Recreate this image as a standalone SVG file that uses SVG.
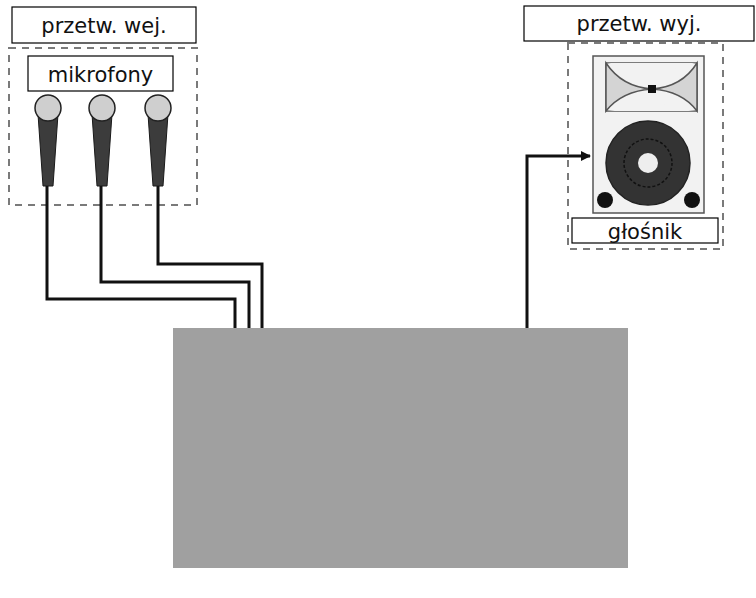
<svg xmlns="http://www.w3.org/2000/svg" width="756" height="598" viewBox="0 0 756 598">
  <defs>
    <style>
      .label { fill: #fff; stroke: #000; stroke-width: 1.2; }
      .txt { font-family: "DejaVu Sans", Verdana, sans-serif; font-size: 21px; fill: #111; text-anchor: middle; }
      .group { fill: none; stroke: #7a7a7a; stroke-width: 2; stroke-dasharray: 7 6; }
      .cable { fill: none; stroke: #111; stroke-width: 3; }
      .mic-head { fill: #cfcfcf; stroke: #222; stroke-width: 1.5; }
      .mic-body { fill: #3c3c3c; stroke: #1a1a1a; stroke-width: 1; }
    </style>
    <marker id="arrow" markerWidth="10" markerHeight="10" refX="9" refY="5" orient="auto" markerUnits="userSpaceOnUse">
      <path d="M0,0 L10,5 L0,10 Z" fill="#111"/>
    </marker>
    <g id="mic">
      <path class="mic-body" d="M-10,114 L10,114 L5,186 L-5,186 Z"/>
      <circle class="mic-head" cx="0" cy="108" r="13"/>
    </g>
  </defs>

  <!-- input transducers -->
  <g id="input-transducers">
    <rect class="label" x="12" y="7" width="184" height="36"/>
    <text class="txt" x="104" y="33">przetw. wej.</text>
  </g>

  <g id="microphones">
    <rect class="group" x="9" y="48" width="188" height="157"/>
    <rect class="label" x="28" y="56" width="145" height="35"/>
    <text class="txt" x="100.5" y="82">mikrofony</text>
    <use href="#mic" x="48" y="0"/>
    <use href="#mic" x="102" y="0"/>
    <use href="#mic" x="158" y="0"/>
  </g>

  <!-- output transducer -->
  <g id="output-transducer">
    <rect class="label" x="524" y="6" width="230" height="35"/>
    <text class="txt" x="639" y="31">przetw. wyj.</text>
  </g>

  <g id="loudspeaker">
    <rect class="group" x="568" y="43" width="155" height="206"/>
    <rect x="593" y="56" width="111" height="157" fill="#f2f2f2" stroke="#555" stroke-width="1.5"/>
    <!-- horn -->
    <path d="M606,63 L697,63 L697,111 L606,111 Z" fill="none" stroke="#555" stroke-width="1.5"/>
    <path d="M606,63 L697,63 Q652,71 652,89 Q652,107 697,111 L606,111 Q652,107 652,89 Q652,71 606,63 Z" fill="#f2f2f2"/>
    <path d="M606,63 Q622,87 652,89 Q682,87 697,63 L697,111 Q682,91 652,89 Q622,91 606,111 Z" fill="#d4d4d4" stroke="#555" stroke-width="1.5"/>
    <rect x="648" y="85" width="8" height="8" fill="#111"/>
    <!-- woofer -->
    <circle cx="648" cy="163" r="42" fill="#333" stroke="#222" stroke-width="1.5"/>
    <circle cx="648" cy="163" r="24" fill="none" stroke="#111" stroke-width="1.5" stroke-dasharray="3 2"/>
    <circle cx="648" cy="163" r="10" fill="#eee"/>
    <circle cx="605" cy="200" r="8" fill="#111"/>
    <circle cx="692" cy="200" r="8" fill="#111"/>
    <rect class="label" x="572" y="218" width="146" height="25"/>
    <text class="txt" x="645" y="239">głośnik</text>
  </g>

  <!-- connectors -->
  <g id="connectors">
    <path class="cable" d="M47,186 V299 H235 V328"/>
    <path class="cable" d="M101,186 V282 H249 V328"/>
    <path class="cable" d="M158,186 V264 H262 V328"/>
    <path class="cable" d="M527,328 V156 H590" marker-end="url(#arrow)"/>
  </g>

  <!-- processing block -->
  <g id="processor">
    <rect x="173" y="328" width="455" height="240" fill="#a0a0a0"/>
  </g>
</svg>
